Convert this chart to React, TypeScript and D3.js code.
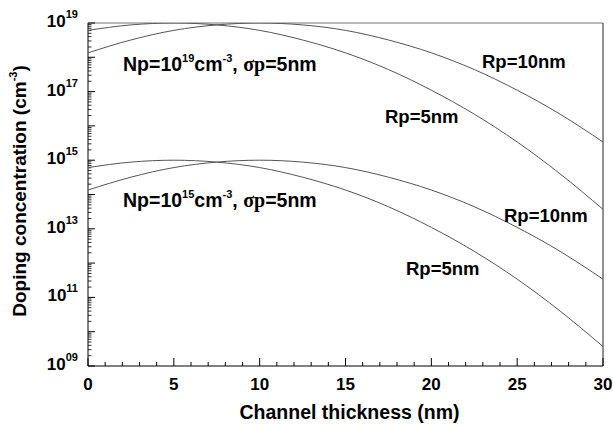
import React from "react";
import * as d3 from "d3";

const xs = [0, 2.5, 5, 7.5, 10, 12.5, 15, 17.5, 20, 22.5, 25, 27.5, 30];
// Np = 1e19
const high_Rp5 = [6.1e18, 8.8e18, 1e19, 8.8e18, 6.1e18, 3.2e18, 1.35e18, 4.4e17, 1.1e17, 2.2e16, 3.4e15, 4.0e14, 3.7e13];
const high_Rp10 = [1.35e18, 3.2e18, 6.1e18, 8.8e18, 1e19, 8.8e18, 6.1e18, 3.2e18, 1.35e18, 4.4e17, 1.1e17, 2.2e16, 3.4e15];
// Np = 1e15
const low_Rp5 = [6.1e14, 8.8e14, 1e15, 8.8e14, 6.1e14, 3.2e14, 1.35e14, 4.4e13, 1.1e13, 2.2e12, 3.4e11, 4.0e10, 3.7e9];
const low_Rp10 = [1.35e14, 3.2e14, 6.1e14, 8.8e14, 1e15, 8.8e14, 6.1e14, 3.2e14, 1.35e14, 4.4e13, 1.1e13, 2.2e12, 3.4e11];

const xTicks = [0, 5, 10, 15, 20, 25, 30];
const yLabelExps = ["19", "17", "15", "13", "11", "09"];

const W = 613;
const H = 427;
const L = 88, R = 603, T = 23, B = 366;
const FONT = "'Liberation Sans', Arial, Helvetica, sans-serif";
const SERIF = "'Liberation Serif', 'Times New Roman', serif";

export default function App() {
  const x = d3.scaleLinear().domain([0, 30]).range([L, R]);
  const y = d3.scaleLog().domain([1e9, 1e19]).range([B, T]);
  const line = d3
    .line<[number, number]>()
    .x((d) => x(d[0]))
    .y((d) => y(d[1]))
    .curve(d3.curveMonotoneX);

  const series = [high_Rp5, high_Rp10, low_Rp5, low_Rp10].map((vals) =>
    xs.map((xv, i) => [xv, vals[i]] as [number, number])
  );

  const xMinor = d3.range(0, 31, 1).filter((v) => v % 5 !== 0);
  const yMajor: number[] = d3.range(9, 20).map((e) => Math.pow(10, e));
  const yMinor: number[] = [];
  for (let e = 9; e < 19; e++) {
    for (let m = 2; m <= 9; m++) yMinor.push(m * Math.pow(10, e));
  }

  const npLabel = (exp: string, yy: number) => (
    <text x={123} y={yy} fontSize={19.5} fill="#000">
      Np=10<tspan fontSize={11} dy={-9}>{exp}</tspan>
      <tspan dy={9}>cm</tspan>
      <tspan fontSize={11} dy={-9}>-3</tspan>
      <tspan dy={9}>, </tspan>
      <tspan fontFamily={SERIF} fontSize={20}>σp</tspan>
      <tspan>=5nm</tspan>
    </text>
  );

  return (
    <svg
      width={W}
      height={H}
      style={{ position: "absolute", left: 0, top: 0, background: "#fff" }}
      fontFamily={FONT}
      fontWeight="bold"
    >
      <defs>
        <clipPath id="plotclip">
          <rect x={L} y={T} width={R - L} height={B - T} />
        </clipPath>
      </defs>
      <rect x={0} y={0} width={W} height={H} fill="#fff" />

      {/* frame */}
      <line x1={L} y1={T} x2={R} y2={T} stroke="#777" strokeWidth={1} />
      <line x1={R} y1={T} x2={R} y2={B} stroke="#222" strokeWidth={1} />
      <line x1={L} y1={T} x2={L} y2={B} stroke="#000" strokeWidth={1} />
      <line x1={L} y1={B} x2={R} y2={B} stroke="#000" strokeWidth={1} />

      {/* x ticks */}
      {xTicks.map((t) => (
        <line key={"xt" + t} x1={x(t)} x2={x(t)} y1={B} y2={B - 8} stroke="#000" />
      ))}
      {xMinor.map((t) => (
        <line key={"xm" + t} x1={x(t)} x2={x(t)} y1={B} y2={B - 4} stroke="#000" />
      ))}
      {xTicks.map((t) => (
        <text key={"xl" + t} x={x(t)} y={390} fontSize={17} textAnchor="middle" fill="#000">
          {t}
        </text>
      ))}

      {/* y ticks */}
      {yMajor.map((t, i) => (
        <line key={"ym" + i} x1={L} x2={L + 7} y1={y(t)} y2={y(t)} stroke="#000" />
      ))}
      {yMinor.map((t, i) => (
        <line key={"yn" + i} x1={L} x2={L + 3.5} y1={y(t)} y2={y(t)} stroke="#000" strokeWidth={0.8} />
      ))}
      {yLabelExps.map((e) => (
        <text key={"yl" + e} x={78} y={y(Math.pow(10, +e)) + 4} fontSize={17} textAnchor="end" fill="#000">
          10
          <tspan fontSize={11} dy={-9}>
            {e}
          </tspan>
        </text>
      ))}

      {/* curves */}
      <g clipPath="url(#plotclip)">
        {series.map((s, i) => (
          <path key={"s" + i} d={line(s) || ""} fill="none" stroke="#555" strokeWidth={1} />
        ))}
      </g>

      {/* annotations */}
      {npLabel("19", 71)}
      {npLabel("15", 207)}
      <text x={482} y={68} fontSize={18.5} fill="#000">Rp=10nm</text>
      <text x={385} y={123} fontSize={18.5} fill="#000">Rp=5nm</text>
      <text x={504} y={222} fontSize={18.5} fill="#000">Rp=10nm</text>
      <text x={406} y={275} fontSize={18.5} fill="#000">Rp=5nm</text>

      {/* axis titles */}
      <text x={349.5} y={419} fontSize={19.5} textAnchor="middle" fill="#000">
        Channel thickness (nm)
      </text>
      <text transform="translate(25.5,191) rotate(-90)" fontSize={19} textAnchor="middle" fill="#000">
        Doping concentration (cm<tspan fontSize={11} dy={-9}>-3</tspan>
        <tspan dy={9}>)</tspan>
      </text>
    </svg>
  );
}
